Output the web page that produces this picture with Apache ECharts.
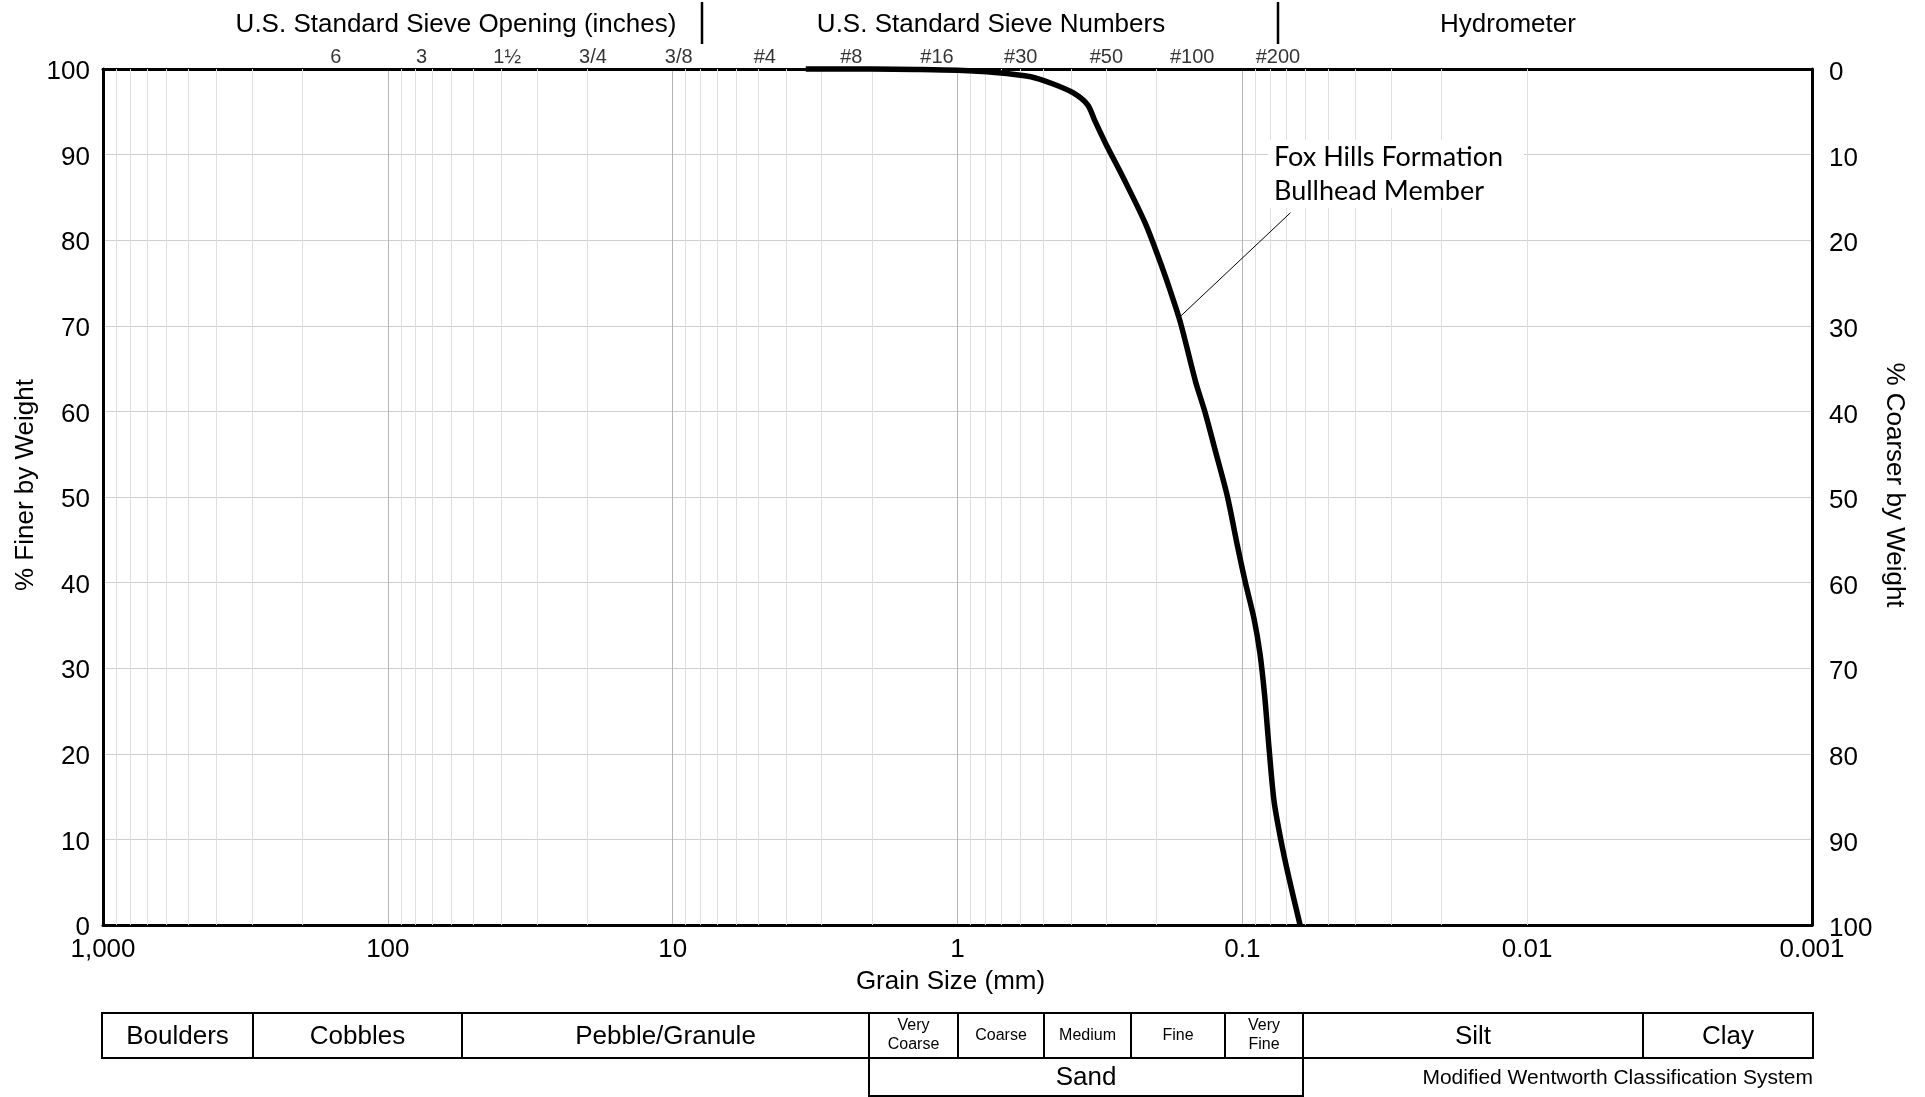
<!DOCTYPE html>
<html>
<head>
<meta charset="utf-8">
<script src="https://cdn.jsdelivr.net/npm/echarts@6/dist/echarts.min.js"></script>
<style>
  html, body { margin: 0; padding: 0; background: #ffffff; }
  #chart { width: 1925px; height: 1097px; }
</style>
</head>
<body>
<div id="chart"></div>
<script>
// ---- Data ----
const grainSizeMm = [3.41, 2.0, 1.4, 1.0, 0.74, 0.553, 0.466, 0.392, 0.349, 0.330, 0.302, 0.261, 0.220, 0.196, 0.180, 0.165, 0.146, 0.1352, 0.1244, 0.1129, 0.1042, 0.0974, 0.0910, 0.0867, 0.0835, 0.0806, 0.0774, 0.0733, 0.0686, 0.0627];
const percentFiner = [100, 100, 99.95, 99.85, 99.6, 99.1, 98.3, 97.2, 95.8, 94.0, 91.3, 87.2, 82.1, 77.8, 74.3, 70.4, 63.5, 59.9, 55.4, 50.1, 44.4, 39.9, 35.8, 31.7, 26.8, 20.7, 14.5, 10.0, 5.5, 0];

const sieveSizesMm = [152.4, 76.2, 38.1, 19.05, 9.525, 4.75, 2.36, 1.18, 0.6, 0.3, 0.15, 0.075];
const sieveLabels = ['6', '3', '1½', '3/4', '3/8', '#4', '#8', '#16', '#30', '#50', '#100', '#200'];

const xTickValues = [1000, 100, 10, 1, 0.1, 0.01, 0.001];
const xTickLabels = ['1,000', '100', '10', '1', '0.1', '0.01', '0.001'];

const seriesName = ['Fox Hills Formation', 'Bullhead Member'];
const leaderFrom = [0.0678, 83.2];
const leaderTo = [0.165, 71.1];

const headerTexts = ['U.S. Standard Sieve Opening (inches)', 'U.S. Standard Sieve Numbers', 'Hydrometer'];
const axisTitles = ['% Finer by Weight', '% Coarser by Weight', 'Grain Size (mm)'];
const classNames = ['Boulders', 'Cobbles', 'Pebble/Granule', 'Very\nCoarse', 'Coarse', 'Medium', 'Fine', 'Very\nFine', 'Silt', 'Clay'];

// ---- Helpers ----
const FONT = '"Liberation Sans", Arial, sans-serif';
const minorGrid = [];
[0.001, 0.01, 0.1, 1, 10, 100].forEach(function (b) {
  for (let m = 2; m <= 9; m++) minorGrid.push({ xAxis: parseFloat((m * b).toPrecision(6)) });
});

function xLabel(v) {
  const i = xTickValues.findIndex(function (t) { return Math.abs(Math.log10(t) - Math.log10(v)) < 1e-6; });
  return i >= 0 ? xTickLabels[i] : '';
}

// ---- Layout (pixels) for decorations ----
const G = { left: 103, top: 69, right: 1812, bottom: 925 };
const tableTop = 1013, tableMid = 1058, tableBot = 1096;
const colEdges = [102, 253, 462, 869, 958, 1044, 1131, 1225, 1303, 1643, 1813];

const graphics = [];
// headers
const headerX = [456, 991, 1508];
headerTexts.forEach(function (t, i) {
  graphics.push({ type: 'text', x: headerX[i], y: 25, style: { text: t, font: '26px ' + FONT, fill: '#000', textAlign: 'center', textVerticalAlign: 'middle' } });
});
[702, 1278].forEach(function (x) {
  graphics.push({ type: 'line', shape: { x1: x, y1: 2, x2: x, y2: 44 }, style: { stroke: '#000', lineWidth: 2.5 } });
});
// y-axis titles
graphics.push({ type: 'text', x: 26, y: 485, rotation: Math.PI / 2, style: { text: axisTitles[0], font: '26px ' + FONT, fill: '#000', textAlign: 'center', textVerticalAlign: 'middle' } });
graphics.push({ type: 'text', x: 1894, y: 485, rotation: -Math.PI / 2, style: { text: axisTitles[1], font: '26px ' + FONT, fill: '#000', textAlign: 'center', textVerticalAlign: 'middle' } });
// annotation text (white box behind)
graphics.push({ type: 'rect', z: 50, shape: { x: 1268, y: 140, width: 256, height: 68 }, style: { fill: '#ffffff', stroke: 'none' } });
seriesName.forEach(function (t, i) {
  graphics.push({ type: 'text', z: 51, x: 1274, y: 157 + i * 34, style: { text: t, font: '27px Lato, "Open Sans", sans-serif', fill: '#000', textAlign: 'left', textVerticalAlign: 'middle' } });
});
// classification table
classNames.forEach(function (name, i) {
  const x0 = colEdges[i], x1 = colEdges[i + 1];
  graphics.push({ type: 'rect', shape: { x: x0, y: tableTop, width: x1 - x0, height: tableMid - tableTop }, style: { fill: 'none', stroke: '#000', lineWidth: 2 } });
  const small = (i >= 3 && i <= 7);
  graphics.push({ type: 'text', x: (x0 + x1) / 2, y: (tableTop + tableMid) / 2 + (small ? 0 : 1), style: { text: name, font: (small ? '16px ' : '26px ') + FONT, fill: '#000', textAlign: 'center', textVerticalAlign: 'middle', lineHeight: small ? 19 : 30 } });
});
graphics.push({ type: 'rect', shape: { x: colEdges[3], y: tableMid, width: colEdges[8] - colEdges[3], height: tableBot - tableMid }, style: { fill: 'none', stroke: '#000', lineWidth: 2 } });
graphics.push({ type: 'text', x: (colEdges[3] + colEdges[8]) / 2, y: (tableMid + tableBot) / 2 + 1, style: { text: 'Sand', font: '26px ' + FONT, fill: '#000', textAlign: 'center', textVerticalAlign: 'middle' } });
graphics.push({ type: 'text', x: 1813, y: 1078, style: { text: 'Modified Wentworth Classification System', font: '21px ' + FONT, fill: '#000', textAlign: 'right', textVerticalAlign: 'middle' } });

const chart = echarts.init(document.getElementById('chart'), null, { renderer: 'canvas' });

const logAxisBase = {
  type: 'log', logBase: 10, min: 0.001, max: 1000, inverse: true, splitNumber: 6
};

const option = {
  animation: false,
  backgroundColor: '#ffffff',
  textStyle: { fontFamily: FONT },
  grid: { left: G.left, top: G.top, width: G.right - G.left, height: G.bottom - G.top, containLabel: false },
  xAxis: [
    Object.assign({}, logAxisBase, {
      position: 'bottom',
      name: axisTitles[2], nameLocation: 'middle', nameGap: 44,
      nameTextStyle: { fontSize: 26, color: '#000', fontFamily: FONT, padding: [0, 14, 0, 0] },
      axisLine: { show: true, onZero: false, lineStyle: { color: '#000', width: 3 } },
      axisTick: { show: false },
      axisLabel: { show: true, fontSize: 26, color: '#000', margin: 12, fontFamily: FONT, formatter: xLabel, showMinLabel: true, showMaxLabel: true, hideOverlap: false },
      splitLine: { show: true, showMinLine: false, showMaxLine: false, lineStyle: { color: '#b5b5b5', width: 1 } }
    }),
    Object.assign({}, logAxisBase, {
      position: 'top',
      axisLine: { show: true, onZero: false, lineStyle: { color: '#000', width: 3 } },
      axisTick: { show: false },
      axisLabel: { show: false },
      splitLine: { show: false }
    })
  ],
  yAxis: [
    {
      type: 'value', min: 0, max: 100, interval: 10, position: 'left',
      axisLine: { show: true, onZero: false, lineStyle: { color: '#000', width: 3 } },
      axisTick: { show: false },
      axisLabel: { fontSize: 26, color: '#000', margin: 13, fontFamily: FONT, verticalAlign: 'top', lineHeight: 6, showMinLabel: true, showMaxLabel: true },
      splitLine: { show: true, showMinLine: false, showMaxLine: false, lineStyle: { color: '#cfcfcf', width: 1 } }
    },
    {
      type: 'value', min: 0, max: 100, interval: 10, position: 'right', inverse: true,
      axisLine: { show: true, onZero: false, lineStyle: { color: '#000', width: 3 } },
      axisTick: { show: false },
      axisLabel: { fontSize: 26, color: '#000', margin: 17, fontFamily: FONT, align: 'left', verticalAlign: 'top', lineHeight: 8, showMinLabel: true, showMaxLabel: true },
      splitLine: { show: false }
    }
  ],
  series: [
    {
      name: 'sieves',
      type: 'scatter',
      xAxisIndex: 0, yAxisIndex: 0,
      z: 1,
      symbolSize: 0,
      silent: true,
      data: sieveSizesMm.map(function (s) { return [s, 100]; }),
      label: {
        show: true, position: 'top', distance: 2,
        fontSize: 20, color: '#000', fontFamily: FONT,
        formatter: function (p) { return sieveLabels[p.dataIndex]; }
      },
      markLine: {
        silent: true, symbol: ['none', 'none'], animation: false,
        label: { show: false },
        lineStyle: { color: '#dedede', width: 1, type: 'solid' },
        emphasis: { disabled: true },
        data: minorGrid
      }
    },
    {
      name: seriesName.join(' '),
      type: 'line',
      xAxisIndex: 0, yAxisIndex: 0,
      z: 5,
      showSymbol: false,
      symbol: 'none',
      smooth: 0.3,
      clip: false,
      lineStyle: { color: '#000', width: 5.5 },
      data: grainSizeMm.map(function (d, i) { return [d, percentFiner[i]]; }),
      markLine: {
        silent: true, symbol: ['none', 'none'], animation: false,
        label: { show: false },
        lineStyle: { color: '#000', width: 1, type: 'solid' },
        emphasis: { disabled: true },
        data: [[{ coord: leaderFrom }, { coord: leaderTo }]]
      }
    }
  ],
  graphic: graphics
};

chart.setOption(option);
</script>
</body>
</html>
